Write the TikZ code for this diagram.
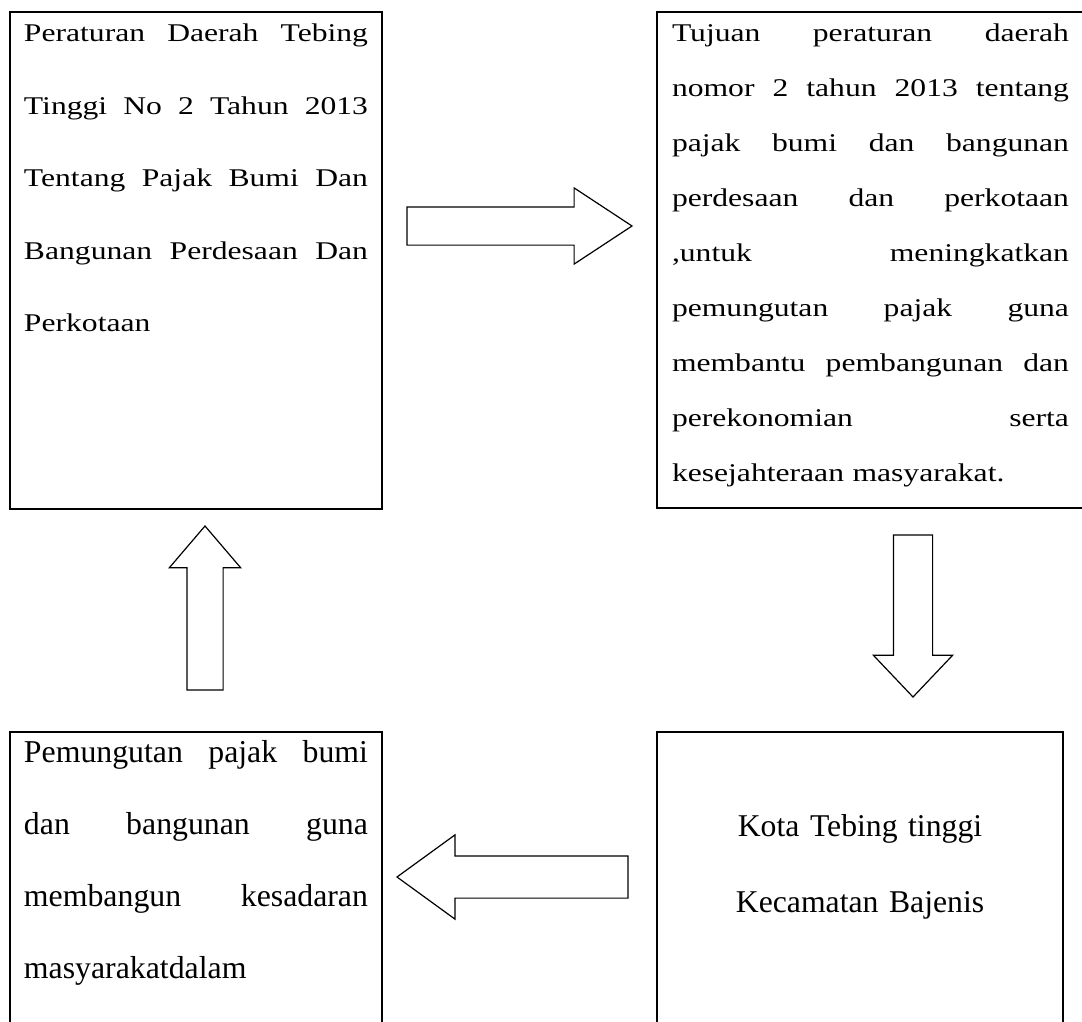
\documentclass[tikz,border=0pt]{standalone}
\usepackage{fontspec}
\setmainfont{Liberation Serif}
\newfontfamily\hurufLebar{Liberation Serif}[FakeStretch=1.24]
\usetikzlibrary{shapes.arrows,positioning}

\newcommand{\baris}[1]{{\spaceskip=\fontdimen2\font plus 1fil\relax\makebox[\linewidth][s]{#1}}}

\begin{document}
\begin{tikzpicture}[
    x=0.5pt, y=-0.5pt,
    kotak/.style={rectangle, draw, line width=1pt, anchor=north west, inner xsep=7pt, inner ysep=0pt, outer sep=0pt, align=left},
    panah/.style={single arrow, draw, line width=0.6pt, single arrow head indent=0pt, outer sep=0pt, anchor=tail}
]
    \useasboundingbox (0,0) rectangle (1082,1022);

    % Kotak kiri atas
    \node[kotak, text width=172pt, text height=15pt, text depth=233.5pt,
          font=\hurufLebar\fontsize{12.75}{36.25}\selectfont] (perda) at (10,12)
        {\baris{Peraturan Daerah Tebing}\\
         \baris{Tinggi No 2 Tahun 2013}\\
         \baris{Tentang Pajak Bumi Dan}\\
         \baris{Bangunan Perdesaan Dan}\\
         Perkotaan};

    % Kotak kanan atas
    \node[kotak, inner xsep=7.5pt, text width=198.5pt, text height=15pt, text depth=233pt,
          font=\hurufLebar\fontsize{12.75}{27.5}\selectfont] (tujuan) at (657,12)
        {\baris{Tujuan peraturan daerah}\\
         \baris{nomor 2 tahun 2013 tentang}\\
         \baris{pajak bumi dan bangunan}\\
         \baris{perdesaan dan perkotaan}\\
         \baris{,untuk meningkatkan}\\
         \baris{pemungutan pajak guna}\\
         \baris{membantu pembangunan dan}\\
         \baris{perekonomian serta}\\
         kesejahteraan masyarakat.};

    % Kotak kanan bawah
    \node[kotak, align=center, text width=189pt, text height=52pt, text depth=102pt,
          font=\fontsize{15.85}{38.35}\selectfont] (kota) at (657,732)
        {Kota Tebing tinggi\\Kecamatan Bajenis};

    % Kotak kiri bawah
    \node[kotak, text width=172pt, text height=15pt, text depth=139pt,
          font=\fontsize{15.9}{36}\selectfont] (pungut) at (10,732)
        {\baris{Pemungutan pajak bumi}\\
         \baris{dan bangunan guna}\\
         \baris{membangun kesadaran}\\
         masyarakatdalam};

    % Panah blok
    \node[panah, minimum height=112.5pt, inner sep=9.25pt, single arrow head extend=9.5pt,
          single arrow tip angle=66.7] (a1) at (407,226) {};
    \node[panah, rotate=-90, minimum height=81pt, inner sep=9.5pt, single arrow head extend=10pt,
          single arrow tip angle=87] (a2) at (913,535) {};
    \node[panah, rotate=180, minimum height=115.5pt, inner sep=10.25pt, single arrow head extend=10.5pt,
          single arrow tip angle=72] (a3) at (628,877) {};
    \node[panah, rotate=90, minimum height=82pt, inner sep=8.75pt, single arrow head extend=8.75pt,
          single arrow tip angle=81] (a4) at (205,690) {};
\end{tikzpicture}
\end{document}
